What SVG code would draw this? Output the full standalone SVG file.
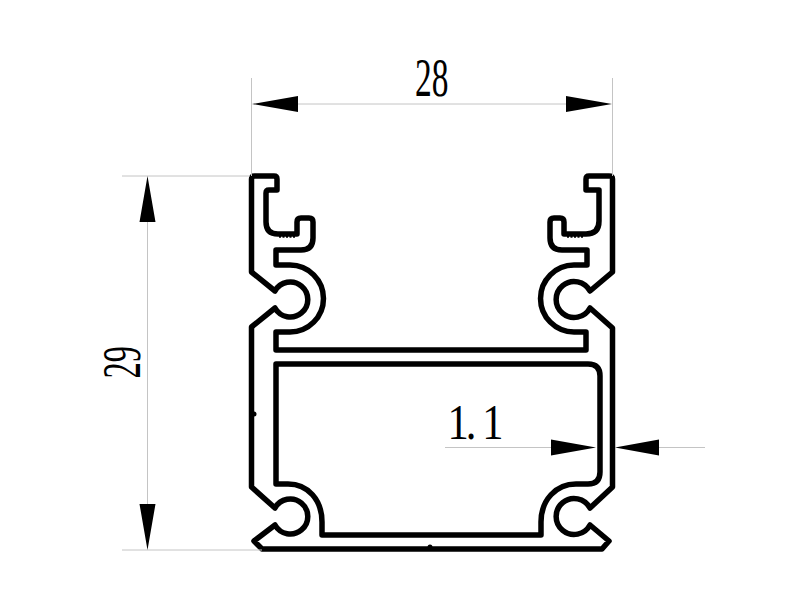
<svg xmlns="http://www.w3.org/2000/svg" width="800" height="600" viewBox="0 0 800 600">
<style>
.dim{stroke:#c4c4c4;stroke-width:1;fill:none}
.prof{fill:none;stroke:#000;stroke-width:5.500;stroke-linejoin:round}
.ah{fill:#000}
text{font-family:"Liberation Serif","Times New Roman",serif;fill:#000;font-size:54px}
</style>
<rect width="800" height="600" fill="#fff"/>
<g id="profile">
<path id="outer" class="prof" d="M251.500 179Q251.500 176 254.500 176H274Q277 176 277 179V190H269Q266 190 266 193V222Q266 234 278 234H297V222Q297 218 301 218H309Q313 218 313 222V238Q313 250 301 250H276V265H290A33.500 33.500 0 0 1 290 332H276V350H586V332H574A33.500 33.500 0 0 1 574 265H587V250H562Q550 250 550 238V222Q550 218 554 218H560Q564 218 564 222V234H586Q599 234 599 221V190H586V179Q586 176 589 176H609Q612.500 176 612.500 179V272L590 291A18 18 0 1 0 590 308L612.500 328V487L590 508A18 18 0 1 0 590 525L609 541L602 549H262L254 541L275 525A17.500 17.500 0 1 0 275 508L251.500 487V327L275 308A17.500 17.500 0 1 0 275 291L251.500 272Z"/>
<path id="inner" class="prof" d="M276 364H588Q600 364 600 376V472Q600 484 588 484H576C556 484 541 500 541 522V535H322V522C322 500 308 484 288 484H276Z"/>
<path id="serration-left" d="M279 236.500H296" fill="none" stroke="#000" stroke-width="2.500" stroke-dasharray="2 1.500"/>
<path id="serration-right" d="M567 236.500H584" fill="none" stroke="#000" stroke-width="2.500" stroke-dasharray="2 1.500"/>
<circle id="nub-left" cx="254" cy="414" r="2.500" fill="#000"/>
<circle id="nub-bottom" cx="430" cy="547" r="2.500" fill="#000"/>
</g>
<g id="dimensions">
<path class="dim" d="M251.500 78V176M612.500 78V176M298 104H566"/>
<path class="dim" d="M122 176H250M122 550H262M147.500 222V504"/>
<path class="dim" d="M445 447.500H551M659 447.500H705"/>
<path class="ah" d="M252 104L298 96V112ZM612 104L566 96V112Z"/>
<path class="ah" d="M147.500 176L139.500 222H155.500ZM147.500 550L139.500 504H155.500Z"/>
<path class="ah" d="M596 447.500L551 439.500V455.500ZM615 447.500L659 439.500V455.500Z"/>
<text transform="translate(415 96) scale(.62 1)">28</text>
<text transform="translate(139.500 378.500) rotate(-90) scale(.6 1)">29</text>
<text transform="translate(447.500 439) scale(.85 1)" x="0 21.600 41" y="0" style="font-size:50px">1.1</text>
</g>
</svg>
